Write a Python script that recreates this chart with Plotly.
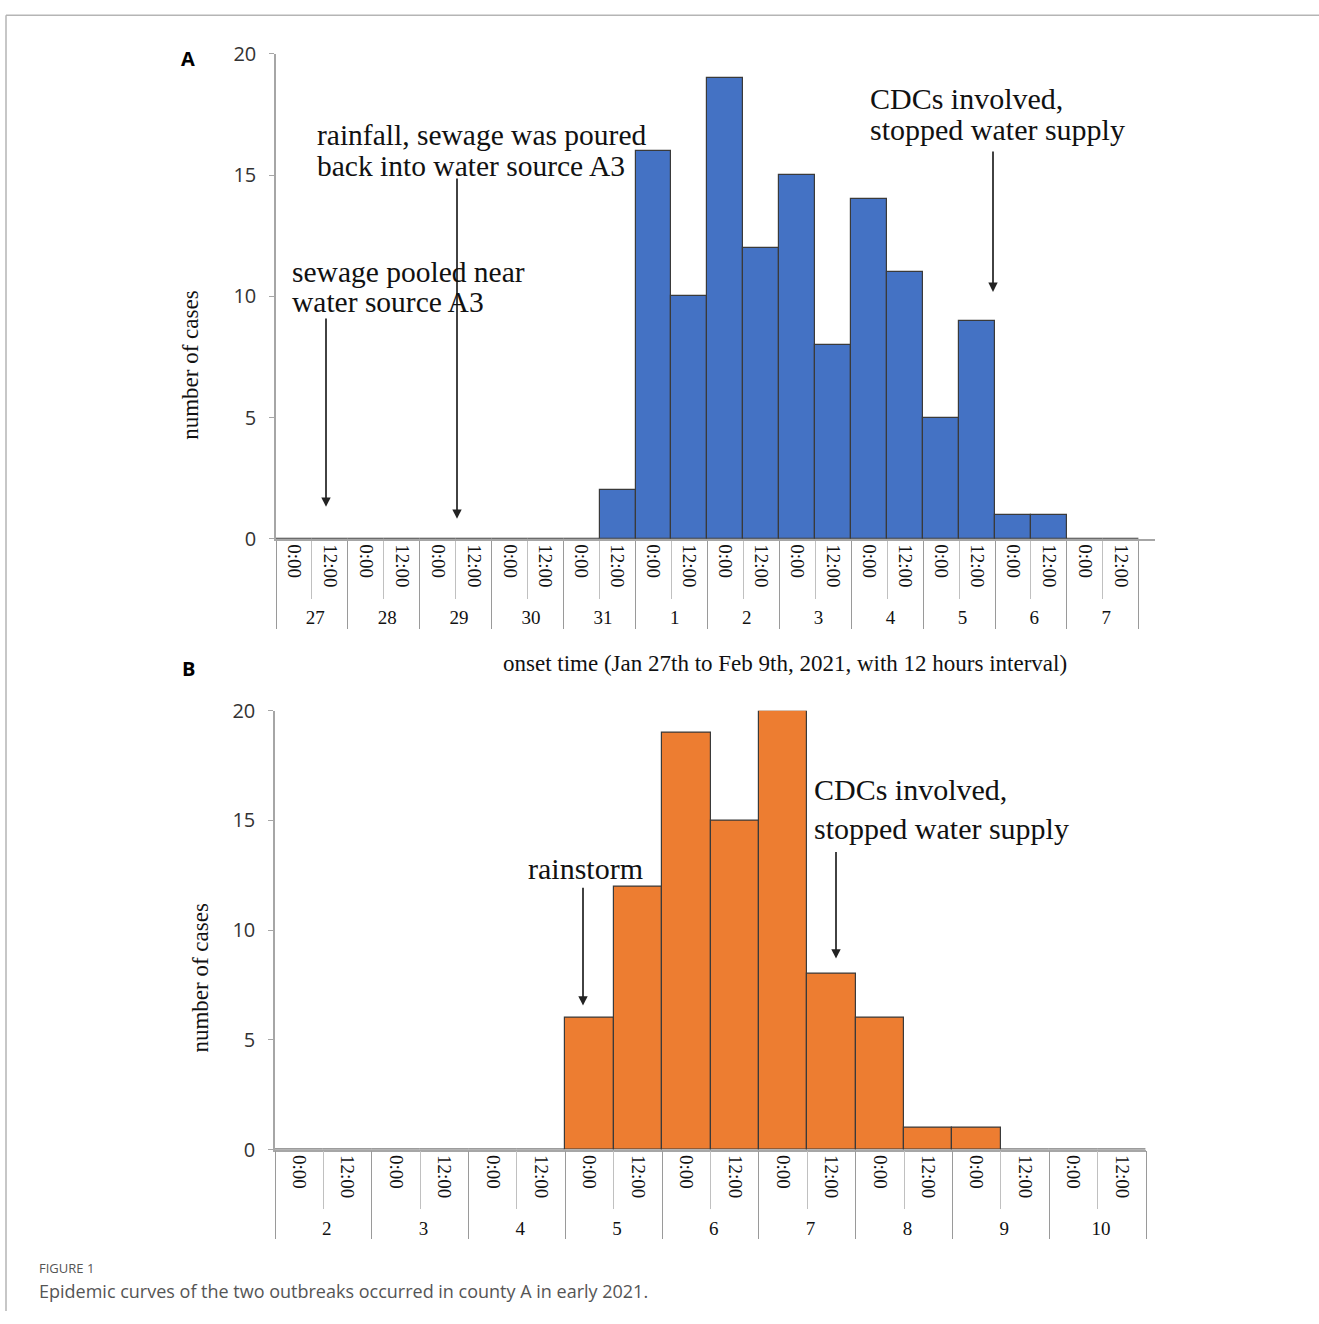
import plotly.graph_objects as go

W, H = 1319, 1324

# ---------------- data ----------------
days_a = ["27", "28", "29", "30", "31", "1", "2", "3", "4", "5", "6", "7"]
times = ["0:00", "12:00"]
cases_a = [0, 0, 0, 0, 0, 0, 0, 0, 0, 2,
           16, 10, 19, 12, 15, 8, 14, 11, 5, 9, 1, 1, 0, 0]

days_b = ["2", "3", "4", "5", "6", "7", "8", "9", "10"]
cases_b = [0, 0, 0, 0, 0, 0,
           6, 12, 19, 15, 20, 8, 6, 1, 1, 0, 0, 0]

y_ticks = [0, 5, 10, 15, 20]

x_title_a = "onset time (Jan 27th to Feb 9th, 2021, with 12 hours interval)"
ytitle = "number of cases"

# the page is photographed slightly squeezed vertically; compensate
VS, VOFF = 0.98, 13.0


def px(x):
    return x / W


def py(y):
    return 1 - ((y - VOFF) / VS) / H


def multicat(days):
    outer, inner = [], []
    for d in days:
        for t in times:
            outer.append(d)
            inner.append(t)
    return [outer, inner]


fig = go.Figure()
fig.add_trace(go.Bar(x=multicat(days_a), y=cases_a, xaxis="x", yaxis="y",
                     marker=dict(color="#4472C4", line=dict(color="#3a3a3a", width=1.2)),
                     showlegend=False, hoverinfo="y"))
fig.add_trace(go.Bar(x=multicat(days_b), y=cases_b, xaxis="x2", yaxis="y2",
                     marker=dict(color="#ED7D31", line=dict(color="#3a3a3a", width=1.2)),
                     showlegend=False, hoverinfo="y"))

serif = "Liberation Serif, Times New Roman, serif"
sans = "Open Sans, Noto Sans, sans-serif"
axis_gray = "#a6a6a6"

xcommon = dict(type="multicategory", showline=True, linecolor=axis_gray, linewidth=1.5,
               ticks="outside", ticklen=58, tickcolor="#c0c0c0", tickwidth=1,
               tickson="boundaries", tickangle=90, showdividers=True,
               dividercolor="#9a9a9a", dividerwidth=1.2,
               tickfont=dict(family=serif, size=19, color="#111"),
               showgrid=False, zeroline=False, fixedrange=True)
ycommon = dict(range=[0, 20], tickvals=y_ticks, showline=True, linecolor=axis_gray,
               linewidth=1.5, ticks="outside", ticklen=5, tickcolor=axis_gray,
               ticklabelstandoff=9,
               tickfont=dict(family=sans, size=20, color="#333"),
               showgrid=False, zeroline=False, fixedrange=True)

fig.update_layout(
    width=W, height=H, margin=dict(l=0, r=0, t=0, b=0),
    paper_bgcolor="white", plot_bgcolor="white", bargap=0,
    xaxis=dict(domain=[px(276), px(1155)], anchor="y", range=[-0.5, 23.95], **xcommon),
    yaxis=dict(domain=[py(538), py(53)], anchor="x", **ycommon),
    xaxis2=dict(domain=[px(275), px(1146)], anchor="y2", range=[-0.5, 17.5], **xcommon),
    yaxis2=dict(domain=[py(1149), py(710)], anchor="x2", **ycommon),
)

ann = []


def text(x, y, s, size=30, family=serif, color="#111", xanchor="left", **kw):
    ann.append(dict(x=px(x), y=py(y), xref="paper", yref="paper", text=s, showarrow=False,
                    xanchor=xanchor, yanchor="middle", borderpad=0,
                    font=dict(family=family, size=size, color=color), **kw))


def arrow(x, y0, y1):
    ann.append(dict(x=px(x), y=py(y1), xref="paper", yref="paper", text="",
                    showarrow=True, ax=0, ay=-(y1 - y0) / VS, arrowhead=2, arrowsize=1.1,
                    arrowwidth=1.7, arrowcolor="#222", standoff=0))


# Panel A annotations
text(316, 134, "rainfall, sewage was poured", size=29.5)
text(316, 165, "back into water source A3", size=29.5)
arrow(457, 183, 518)
text(291, 271, "sewage pooled near", size=29.5)
text(291, 301, "water source A3", size=29.5)
arrow(326, 320, 506)
text(869, 98, "CDCs involved,")
text(869, 129, "stopped water supply")
arrow(993, 152, 291)

# Panel B annotations
text(585, 868, "rainstorm", xanchor="center")
arrow(583, 888, 1005)
text(813, 789, "CDCs involved,")
text(813, 828, "stopped water supply")
arrow(836, 852, 958)

# titles / labels
text(785, 663, x_title_a, size=23, xanchor="center")
text(191, 365, ytitle, size=23, xanchor="center", textangle=-90)
text(201, 978, ytitle, size=23, xanchor="center", textangle=-90)
text(188, 58, "<b>A</b>", size=20, family=sans, color="#000", xanchor="center")
text(188, 668, "<b>B</b>", size=20, family=sans, color="#000", xanchor="center")
text(38, 1268, "FIGURE 1", size=13, family=sans, color="#555")
text(38, 1291, "Epidemic curves of the two outbreaks occurred in county A in early 2021.",
     size=18, family=sans, color="#555")

fig.update_layout(annotations=ann)

# frame lines
fig.add_shape(type="line", xref="paper", yref="paper", x0=px(6), x1=1, y0=0.999, y1=0.999,
              line=dict(color="#b5b5b5", width=1.5))
fig.add_shape(type="line", xref="paper", yref="paper", x0=px(6), x1=px(6), y0=0.999, y1=0,
              line=dict(color="#b5b5b5", width=1.5))

fig.write_html(
    "out.html",
    config={"displayModeBar": False},
    post_script="document.body.style.margin='0';document.body.style.overflow='hidden';",
)
